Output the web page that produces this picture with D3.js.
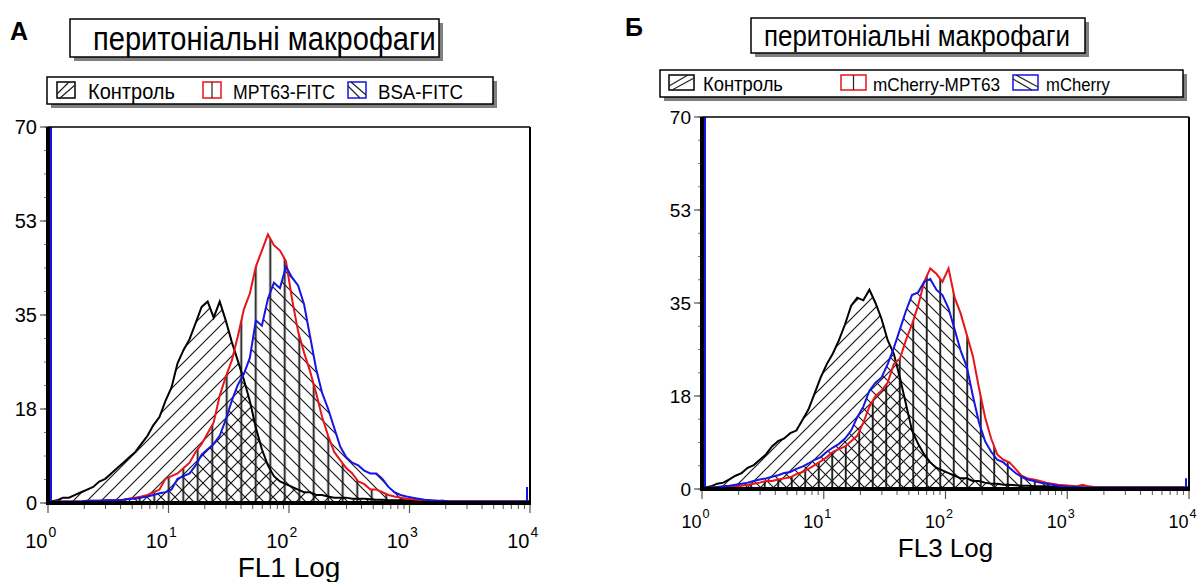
<!DOCTYPE html>
<html>
<head>
<meta charset="utf-8">
<script src="https://cdn.jsdelivr.net/npm/d3@7"></script>
<style>
body { margin: 0; background: #fff; }
text { font-family: Arial, "Liberation Sans", sans-serif; fill: #000; }
</style>
</head>
<body>
<svg id="chart" width="1198" height="582"></svg>
<script>
// histogram bins: 20 per decade, from 10^0 to 10^4
const binsPerDecade = 20;

// panel A (FL1)
const ctrlA = [0.3, 0.5, 1, 1, 1.5, 2, 2.5, 3, 4, 4.5,
    5.5, 6.5, 7.5, 8.5, 9.5, 11, 12.5, 14.5, 16, 19,
    21.5, 26, 28.5, 30.5, 33.5, 36.5, 37.5, 34.5, 37.5, 34,
    30, 26.5, 23, 19, 14, 10, 7, 5, 4, 3.5,
    3, 2.5, 2, 2, 1.5, 1.5, 1.2, 1, 1, 1,
    0.8, 0.8, 0.8, 0.7, 0.6, 0.6, 0.5, 0.5, 0.5, 0.5,
    0.4, 0.4, 0.4, 0.3, 0.3, 0.4, 0.3, 0.3, 0.3, 0.3,
    0.3, 0.3, 0.3, 0.3, 0.3, 0.3, 0.3, 0.3, 0.3, 0.3];
const mptA = [0.2, 0.3, 0.3, 0.3, 0.3, 0.3, 0.4, 0.4, 0.4, 0.5,
    0.5, 0.5, 0.6, 0.8, 1, 1.2, 1.5, 2, 2.5, 4.5,
    5, 5.5, 6.5, 7.5, 9.5, 11, 13, 15, 20, 23.5,
    26.5, 31, 36, 39, 44, 47, 50, 48, 47, 45,
    38, 32, 28, 24.5, 20.5, 16, 12.5, 9.5, 8, 6.5,
    5.5, 4, 3.5, 2.5, 2.5, 2, 1.5, 1.2, 1, 0.8,
    0.7, 0.6, 0.5, 0.4, 0.4, 0.3, 0.3, 0.3, 0.3, 0.3,
    0.3, 0.3, 0.3, 0.3, 0.3, 0.3, 0.3, 0.3, 0.3, 0.3];
const bsaA = [0.2, 0.3, 0.3, 0.3, 0.3, 0.3, 0.4, 0.4, 0.4, 0.5,
    0.5, 0.5, 0.6, 0.8, 0.8, 1, 1.2, 1.5, 1.8, 2,
    2.5, 4.5, 5, 5.5, 7, 9, 10, 11, 12.5, 15.5,
    19, 22, 24, 27, 34, 33, 38, 41, 40, 44,
    42, 40.5, 37, 31, 25, 20.5, 17.5, 14, 10.5, 8.5,
    7.5, 7, 6, 5.5, 5.5, 4.5, 3, 2, 1.5, 1.2,
    1, 0.8, 0.6, 0.5, 0.4, 0.4, 0.3, 0.3, 0.3, 0.3,
    0.3, 0.3, 0.3, 0.3, 0.3, 0.3, 0.3, 0.3, 0.3, 0.3];
// first / last channel pile-ups: [control, red, blue]
const firstChA = [90, 90, 90];
const lastChA = [0.8, 1.5, 3];

// panel Б (FL3)
const ctrlB = [0.3, 0.5, 1, 1.2, 1.8, 2.5, 3, 4, 4.5, 5.5,
    6.5, 8, 9, 9.5, 10.5, 11, 13, 15, 18, 21,
    23.5, 25.5, 28, 31, 34.5, 36, 35.5, 37.5, 35, 32,
    28, 25.5, 21, 16, 11, 8.5, 6.5, 5, 4, 3.5,
    3, 2.5, 2, 2, 1.5, 1.5, 1.2, 1, 1, 0.8,
    0.8, 0.7, 0.6, 0.6, 0.5, 0.5, 0.5, 0.4, 0.4, 0.4,
    0.4, 0.3, 0.3, 0.3, 0.3, 0.3, 0.3, 0.3, 0.3, 0.3,
    0.3, 0.3, 0.3, 0.3, 0.3, 0.3, 0.3, 0.3, 0.3, 0.3];
const mchMptB = [0.2, 0.3, 0.3, 0.4, 0.4, 0.5, 0.6, 0.8, 1, 1.2,
    1.5, 1.5, 1.8, 2, 2.2, 2.8, 3.2, 3.8, 4.5, 5.2,
    6, 7, 7.5, 8, 9, 10, 12.5, 15.5, 17.5, 18.5,
    20, 23.5, 24.5, 28, 31, 34.5, 39, 41.5, 40.5, 39,
    41.5, 36, 33, 29, 25, 19, 13.5, 9.5, 6.5, 5.5,
    5, 3.8, 2.5, 2, 1.8, 1.5, 1.2, 1, 0.8, 0.7,
    0.6, 0.5, 0.8, 0.5, 0.4, 0.3, 0.3, 0.3, 0.3, 0.3,
    0.3, 0.3, 0.3, 0.3, 0.3, 0.3, 0.3, 0.3, 0.3, 0.3];
const mchB = [0.2, 0.3, 0.4, 0.5, 0.6, 0.8, 1, 1.2, 1.5, 1.8,
    2, 2.3, 2.6, 3, 3.2, 3.8, 4.2, 4.8, 5.5, 6,
    7, 7.8, 8.5, 9.5, 11, 13.5, 15.5, 18.5, 20, 21,
    23.5, 26.5, 30, 33.5, 36.5, 37, 39, 39.5, 37.5, 36.5,
    34, 30, 26, 23, 17.5, 12.5, 9, 7, 5.5, 5,
    4, 3, 2.3, 1.8, 1.5, 1.2, 1, 0.8, 0.6, 0.5,
    0.4, 0.4, 0.3, 0.3, 0.3, 0.3, 0.3, 0.3, 0.3, 0.3,
    0.3, 0.3, 0.3, 0.3, 0.3, 0.3, 0.3, 0.3, 0.3, 0.3];
const firstChB = [90, 90, 90];
const lastChB = [0.5, 1, 2];

const yMax = 70;
const yMajor = [0, 17.5, 35, 52.5, 70];
const yMajorLabels = ["0", "18", "35", "53", "70"];
const xDecades = [0, 1, 2, 3, 4];

const titleText = "перитоніальні макрофаги";
const legendA = ["Контроль", "MPT63-FITC", "BSA-FITC"];
const legendB = ["Контроль", "mCherry-MPT63", "mCherry"];
const seriesColors = ["#000", "#e8141b", "#1515e6"];
const hatchKinds = ["slash", "vert", "back"];

const svg = d3.select("#chart");
const defs = svg.append("defs");

function makePatterns(id, vStep, dStep) {
    let p = defs.append("pattern").attr("id", "slash-" + id)
        .attr("patternUnits", "userSpaceOnUse").attr("width", dStep).attr("height", dStep);
    p.append("path")
        .attr("d", `M0,${dStep} L${dStep},0 M${-2},2 L2,${-2} M${dStep - 2},${dStep + 2} L${dStep + 2},${dStep - 2}`)
        .attr("stroke", "#1a1a1a").attr("stroke-width", 1.2);
    p = defs.append("pattern").attr("id", "back-" + id)
        .attr("patternUnits", "userSpaceOnUse").attr("width", dStep).attr("height", dStep);
    p.append("path")
        .attr("d", `M0,0 L${dStep},${dStep} M${-2},${dStep - 2} L2,${dStep + 2} M${dStep - 2},${-2} L${dStep + 2},2`)
        .attr("stroke", "#1a1a1a").attr("stroke-width", 1.2);
    p = defs.append("pattern").attr("id", "vert-" + id)
        .attr("patternUnits", "userSpaceOnUse").attr("width", vStep).attr("height", 20)
        .attr("x", 2);
    p.append("line").attr("x1", vStep / 2).attr("x2", vStep / 2).attr("y1", 0).attr("y2", 20)
        .attr("stroke", "#111").attr("stroke-width", 1.8);
}

function boxWithShadow(g, x, y, w, h) {
    g.append("rect").attr("x", x + 4).attr("y", y + 4).attr("width", w).attr("height", h)
        .attr("fill", "#808080");
    g.append("rect").attr("x", x).attr("y", y).attr("width", w).attr("height", h)
        .attr("fill", "#fff").attr("stroke", "#000").attr("stroke-width", 1.5);
}

// scale a text horizontally to a given width, stretch it vertically a bit
function fitText(sel, width, stretch) {
    let len = sel.node().getComputedTextLength();
    let fs = parseFloat(sel.attr("font-size"));
    sel.attr("font-size", (fs * width / len).toFixed(2));
    if (stretch) {
        let y = +sel.attr("y");
        sel.attr("transform", `translate(0,${y}) scale(1,${stretch}) translate(0,${-y})`);
    }
}

function drawPanel(cfg) {
    const g = svg.append("g");
    const id = cfg.id;
    makePatterns(id, cfg.vStep, cfg.dStep);

    // letter
    g.append("text").attr("x", cfg.letter.x).attr("y", cfg.letter.y)
        .attr("font-size", 25).attr("font-weight", "bold").text(cfg.letter.t);

    // title box
    const tb = cfg.titleBox;
    boxWithShadow(g, tb.x, tb.y, tb.w, tb.h);
    let tt = g.append("text").attr("x", tb.tx).attr("y", tb.ty)
        .attr("font-size", 28).text(titleText);
    fitText(tt, tb.tw, 1.15);

    // legend
    const lg = cfg.legend;
    boxWithShadow(g, lg.x, lg.y, lg.w, lg.h);
    cfg.names.forEach((name, i) => {
        let sx = lg.sx[i], sy = lg.sy, sw = lg.sw, sh = lg.sh;
        g.append("rect").attr("x", sx).attr("y", sy).attr("width", sw).attr("height", sh)
            .attr("fill", "#fff").attr("stroke", seriesColors[i]).attr("stroke-width", 1.5);
        let d;
        if (hatchKinds[i] === "slash") {
            d = `M${sx + 3},${sy + sh} L${sx + sw},${sy + 3} M${sx},${sy + sh - 4} L${sx + sw - 6},${sy}`;
        } else if (hatchKinds[i] === "vert") {
            d = `M${sx + sw / 2},${sy} L${sx + sw / 2},${sy + sh}`;
        } else {
            d = `M${sx + 3},${sy} L${sx + sw},${sy + sh - 3} M${sx},${sy + 4} L${sx + sw - 6},${sy + sh}`;
        }
        g.append("path").attr("d", d).attr("stroke", "#222").attr("stroke-width", 1.2).attr("fill", "none");
        let t = g.append("text").attr("x", lg.tx[i]).attr("y", lg.ty)
            .attr("font-size", 20).text(name);
        fitText(t, lg.tw[i], 1.12);
    });

    // scales
    const pl = cfg.plot;
    const xs = d3.scaleLog().domain([1, 1e4]).range([pl.left, pl.right]);
    const ys = d3.scaleLinear().domain([0, yMax]).range([pl.bottom, pl.top]);

    g.append("clipPath").attr("id", "clip-" + id)
        .append("rect").attr("x", pl.left).attr("y", pl.top)
        .attr("width", pl.right - pl.left).attr("height", pl.bottom - pl.top);

    const plotG = g.append("g").attr("clip-path", `url(#clip-${id})`);

    // one point per bin centre, plus the two ends of the range
    const toPoints = vals => {
        let pts = vals.map((v, i) => [Math.pow(10, (i + 0.5) / binsPerDecade), v]);
        pts.unshift([1, vals[0]]);
        pts.push([1e4, vals[vals.length - 1]]);
        return pts;
    };
    const area = d3.area()
        .x(d => xs(d[0])).y0(ys(0)).y1(d => ys(d[1]));
    const line = d3.line()
        .x(d => xs(d[0])).y(d => ys(d[1]));

    cfg.series.forEach((vals, i) => {
        plotG.append("path").attr("d", area(toPoints(vals)))
            .attr("fill", `url(#${hatchKinds[i]}-${id})`).attr("stroke", "none");
    });
    cfg.series.forEach((vals, i) => {
        plotG.append("path").attr("d", line(toPoints(vals)))
            .attr("fill", "none").attr("stroke", seriesColors[i])
            .attr("stroke-width", 2);
    });
    // channel pile-ups at both ends
    cfg.firstCh.forEach((v, i) => {
        plotG.append("line").attr("x1", xs(1) + 3).attr("x2", xs(1) + 3)
            .attr("y1", ys(0)).attr("y2", ys(Math.min(v, yMax)))
            .attr("stroke", seriesColors[i]).attr("stroke-width", 2);
    });
    cfg.lastCh.forEach((v, i) => {
        plotG.append("line").attr("x1", xs(1e4) - 3).attr("x2", xs(1e4) - 3)
            .attr("y1", ys(0)).attr("y2", ys(v))
            .attr("stroke", seriesColors[i]).attr("stroke-width", 2);
    });

    // frame
    g.append("line").attr("x1", pl.left).attr("x2", pl.right).attr("y1", pl.top).attr("y2", pl.top)
        .attr("stroke", "#000").attr("stroke-width", 1.5);
    g.append("line").attr("x1", pl.right).attr("x2", pl.right).attr("y1", pl.top).attr("y2", pl.bottom)
        .attr("stroke", "#000").attr("stroke-width", 2);

    // y axis ticks
    const yMinor = d3.range(0, yMax + 0.01, yMax / 16);
    g.append("g").selectAll("line").data(yMinor).join("line")
        .attr("x1", pl.left - 4).attr("x2", pl.left)
        .attr("y1", d => ys(d)).attr("y2", d => ys(d))
        .attr("stroke", "#777").attr("stroke-width", 1);
    g.append("g").selectAll("line").data(yMajor).join("line")
        .attr("x1", pl.left - 8).attr("x2", pl.left)
        .attr("y1", d => ys(d)).attr("y2", d => ys(d))
        .attr("stroke", "#555").attr("stroke-width", 1.2);
    g.append("g").selectAll("text").data(yMajor).join("text")
        .attr("x", pl.left - 11).attr("y", d => ys(d)).attr("dy", "0.36em")
        .attr("text-anchor", "end").attr("font-size", cfg.yFont)
        .text((d, i) => yMajorLabels[i]);

    // x axis ticks
    const xMinor = [];
    xDecades.slice(0, -1).forEach(k => {
        for (let m = 2; m <= 9; m++) xMinor.push(m * Math.pow(10, k));
    });
    g.append("g").selectAll("line").data(xMinor).join("line")
        .attr("x1", d => xs(d)).attr("x2", d => xs(d))
        .attr("y1", pl.bottom).attr("y2", pl.bottom + 6)
        .attr("stroke", "#555").attr("stroke-width", 1);
    g.append("g").selectAll("line").data(xDecades).join("line")
        .attr("x1", d => xs(Math.pow(10, d))).attr("x2", d => xs(Math.pow(10, d)))
        .attr("y1", pl.bottom).attr("y2", pl.bottom + 10)
        .attr("stroke", "#555").attr("stroke-width", 1.2);
    const xl = g.append("g").selectAll("g").data(xDecades).join("g")
        .attr("transform", d => `translate(${xs(Math.pow(10, d))},${cfg.xLabelY})`);
    xl.append("text").attr("text-anchor", "end").attr("x", -0.5)
        .attr("font-size", cfg.xFont).text("10");
    xl.append("text").attr("text-anchor", "start").attr("x", 0.5).attr("y", -cfg.xFont * 0.55)
        .attr("font-size", cfg.xFont * 0.7).text(d => d);

    // axis lines (thick)
    g.append("line").attr("x1", pl.left).attr("x2", pl.left).attr("y1", pl.top).attr("y2", pl.bottom + 2)
        .attr("stroke", "#000").attr("stroke-width", 4);
    g.append("line").attr("x1", pl.left - 2).attr("x2", pl.right + 1).attr("y1", pl.bottom).attr("y2", pl.bottom)
        .attr("stroke", "#000").attr("stroke-width", 4);

    // axis title
    g.append("text").attr("x", (pl.left + pl.right) / 2).attr("y", cfg.xTitle.y)
        .attr("text-anchor", "middle").attr("font-size", cfg.xTitle.size).text(cfg.xTitle.t);
}

drawPanel({
    id: "a",
    letter: {t: "А", x: 10, y: 40},
    titleBox: {x: 70, y: 19, w: 369, h: 38, tx: 93, ty: 50, tw: 343},
    legend: {x: 47, y: 77, w: 446, h: 27, sx: [57, 203, 348], sy: 82, sw: 18, sh: 16,
             tx: [88, 233, 378], ty: 99, tw: [87, 102, 85]},
    names: legendA,
    plot: {left: 48, right: 530, top: 127, bottom: 503},
    series: [ctrlA, mptA, bsaA],
    firstCh: firstChA, lastCh: lastChA,
    yFont: 20, xFont: 20, xLabelY: 548,
    xTitle: {t: "FL1 Log", y: 577, size: 28},
    vStep: 14.5, dStep: 14
});

drawPanel({
    id: "b",
    letter: {t: "Б", x: 625, y: 36},
    titleBox: {x: 751, y: 18, w: 334, h: 35, tx: 764, ty: 46, tw: 306},
    legend: {x: 660, y: 70, w: 523, h: 27, sx: [669, 841, 1013], sy: 75, sw: 25, sh: 15,
             tx: [703, 873, 1046], ty: 91, tw: [80, 127, 64]},
    names: legendB,
    plot: {left: 702, right: 1189, top: 117, bottom: 489},
    series: [ctrlB, mchMptB, mchB],
    firstCh: firstChB, lastCh: lastChB,
    yFont: 19, xFont: 18, xLabelY: 528,
    xTitle: {t: "FL3 Log", y: 557, size: 26},
    vStep: 13.5, dStep: 13
});
</script>
</body>
</html>
